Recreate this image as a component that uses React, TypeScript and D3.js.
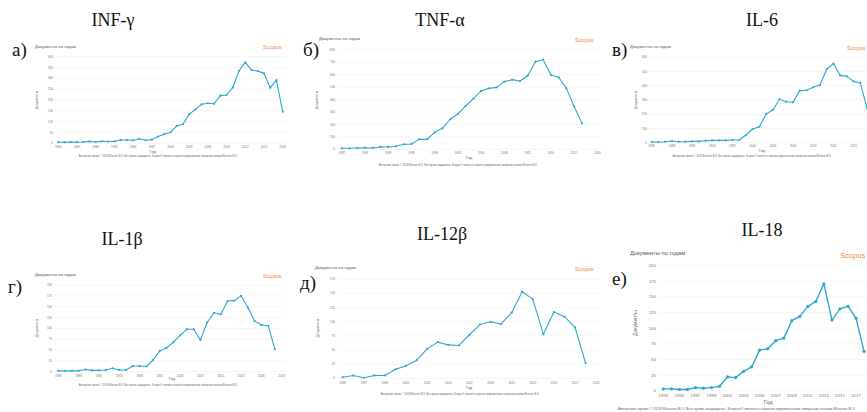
import * as d3 from 'd3';
import React from 'react';

const infYears = [1982,1983,1984,1985,1986,1987,1988,1989,1990,1991,1992,1993,1994,1995,1996,1997,1998,1999,2000,2001,2002,2003,2004,2005,2006,2007,2008,2009,2010,2011,2012,2013,2014,2015,2016,2017,2018];
const infValues = [5,5,6,5,6,9,6,9,8,9,15,15,14,20,14,17,31,42,51,80,88,134,157,180,185,183,220,223,258,335,374,338,334,323,257,292,146];
const infYTicks = [0,50,100,150,200,250,300,350,400];
const infXTicks = [1982,1985,1988,1991,1994,1997,2000,2003,2006,2009,2012,2015,2018];

const tnfYears = [1987,1988,1989,1990,1991,1992,1993,1994,1995,1996,1997,1998,1999,2000,2001,2002,2003,2004,2005,2006,2007,2008,2009,2010,2011,2012,2013,2014,2015,2016,2017,2018];
const tnfValues = [8,8,11,13,11,19,19,24,40,43,80,80,137,169,242,285,349,408,470,491,499,545,561,550,593,706,722,599,580,491,344,209];
const tnfYTicks = [0,100,200,300,400,500,600,700,800];
const tnfXTicks = [1987,1990,1993,1996,1999,2002,2005,2008,2011,2014,2017,2020];

const il6Years = [1985,1986,1987,1988,1989,1990,1991,1992,1993,1994,1995,1996,1997,1998,1999,2000,2001,2002,2003,2004,2005,2006,2007,2008,2009,2010,2011,2012,2013,2014,2015,2016,2017];
const il6Values = [5,5,7,12,7,7,9,9,14,16,16,16,19,19,54,96,112,202,230,305,288,284,366,368,389,405,516,556,473,466,431,420,241];
const il6YTicks = [0,100,200,300,400,500,600];
const il6XTicks = [1985,1988,1991,1994,1997,2000,2003,2006,2009,2012,2015];

const il1Years = [1986,1987,1988,1989,1990,1991,1992,1993,1994,1995,1996,1997,1998,1999,2000,2001,2002,2003,2004,2005,2006,2007,2008,2009,2010,2011,2012,2013,2014,2015,2016,2017,2018];
const il1Values = [2,2,2,2,5,3,3,4,8,4,4,13,13,12,27,48,55,68,84,98,98,73,114,136,132,163,164,175,148,117,108,106,52];
const il1YTicks = [0,25,50,75,100,125,150,175,200];
const il1XTicks = [1986,1989,1992,1995,1998,2001,2004,2007,2010,2013,2016,2019];

const il12Years = [1995,1996,1997,1998,1999,2000,2001,2002,2003,2004,2005,2006,2007,2008,2009,2010,2011,2012,2013,2014,2015,2016,2017,2018];
const il12Values = [2,5,1,5,5,16,22,32,52,64,59,58,77,95,100,96,116,153,140,78,117,109,90,27];
const il12YTicks = [0,25,50,75,100,125,150,175];
const il12XTicks = [1995,1997,1999,2001,2003,2005,2007,2009,2011,2013,2015,2017,2019];

const il18Years = [1993,1994,1995,1996,1997,1998,1999,2000,2001,2002,2003,2004,2005,2006,2007,2008,2009,2010,2011,2012,2013,2014,2015,2016,2017,2018];
const il18Values = [3,3,2,2,5,4,5,7,22,21,31,38,65,67,80,84,112,119,135,143,171,113,131,135,116,63];
const il18YTicks = [0,25,50,75,100,125,150,175,200];
const il18XTicks = [1993,1995,1997,1999,2001,2003,2005,2007,2009,2011,2013,2015,2017];

const HEAD = 'Документы по годам';
const YLABEL = 'Документы';
const XLABEL = 'Год';
const COPY = 'Авторские права © 2018 Elsevier B.V. Все права защищены. Scopus® является зарегистрированным товарным знаком Elsevier B.V.';

const SANS = "'Liberation Sans', Arial, sans-serif";
const SERIF = "'Liberation Serif', 'Times New Roman', serif";
const LINE = '#2ea9cd';
const ORANGE = '#ec8a3c';

// layout in page pixels
const small = { tick: 3, head: 4.3, scopus: 5.6, ylab: 3.6, xlab: 4, copy: 2.6, r: 1.1, sw: 1.1 };
const big = { tick: 4.4, head: 5.8, scopus: 7.6, ylab: 5, xlab: 5.6, copy: 3.9, r: 1.6, sw: 1.4 };

const panels = [
  { title: 'INF-γ', letter: 'а)', years: infYears, values: infValues, yTicks: infYTicks, xTicks: infXTicks,
    L: { tx: 113, ty: 26, lx: 12, ly: 56, hx: 35, hy: 48, sx: 263, sy: 49, x0: 58.3, ppy: 6.233, base: 143.3, top: 56.7,
      tickR: 53, yearY: 148, gx: 153, gy: 153, cx: 158, cy: 157, dx: 38, dy: 100, anchorCopy: 'middle', f: small } },
  { title: 'TNF-α', letter: 'б)', years: tnfYears, values: tnfValues, yTicks: tnfYTicks, xTicks: tnfXTicks,
    L: { tx: 440, ty: 26, lx: 303, ly: 56, hx: 319, hy: 40, sx: 575, sy: 42, x0: 341.7, ppy: 7.75, base: 149.3, top: 50,
      tickR: 335, yearY: 154, gx: 469, gy: 159, cx: 458, cy: 165.5, dx: 318, dy: 100, anchorCopy: 'middle', f: small } },
  { title: 'IL-6', letter: 'в)', years: il6Years, values: il6Values, yTicks: il6YTicks, xTicks: il6XTicks,
    L: { tx: 762, ty: 26, lx: 612, ly: 56, hx: 630, hy: 48, sx: 847, sy: 50, x0: 651.7, ppy: 6.73, base: 142.7, top: 57.3,
      tickR: 647, yearY: 147, gx: 762, gy: 152, cx: 752, cy: 157, dx: 637, dy: 100, anchorCopy: 'middle', f: small } },
  { title: 'IL-1β', letter: 'г)', years: il1Years, values: il1Values, yTicks: il1YTicks, xTicks: il1XTicks,
    L: { tx: 122, ty: 245, lx: 8, ly: 293, hx: 35, hy: 276, sx: 263, sy: 278, x0: 58.3, ppy: 6.77, base: 371.7, top: 285,
      tickR: 52, yearY: 377, gx: 172, gy: 380, cx: 158, cy: 385.5, dx: 38, dy: 328, anchorCopy: 'middle', f: small } },
  { title: 'IL-12β', letter: 'д)', years: il12Years, values: il12Values, yTicks: il12YTicks, xTicks: il12XTicks,
    L: { tx: 442, ty: 240, lx: 300, ly: 289, hx: 315, hy: 269, sx: 575, sy: 271, x0: 342.7, ppy: 10.56, base: 378.3, top: 279.3,
      tickR: 335, yearY: 384, gx: 469, gy: 389, cx: 460, cy: 394.5, dx: 319, dy: 328, anchorCopy: 'middle', f: small } },
  { title: 'IL-18', letter: 'е)', years: il18Years, values: il18Values, yTicks: il18YTicks, xTicks: il18XTicks,
    L: { tx: 762, ty: 236, lx: 612, ly: 285, hx: 630, hy: 255, sx: 840, sy: 258, x0: 663.3, ppy: 8.03, base: 390.7, top: 265.7,
      tickR: 656, yearY: 397, gx: 768, gy: 404, cx: 618, cy: 410, dx: 637, dy: 323, anchorCopy: 'start', f: big } },
];

function Panel({ p }: { p: any }) {
  const L = p.L;
  const f = L.f;
  const first = p.years[0];
  const lastTick = p.xTicks[p.xTicks.length - 1];
  const x = d3.scaleLinear().domain([first, lastTick]).range([L.x0, L.x0 + L.ppy * (lastTick - first)]);
  const y = d3.scaleLinear().domain([0, p.yTicks[p.yTicks.length - 1]]).range([L.base, L.top]);
  const line = d3.line<number>().x((_, i) => x(p.years[i])).y((d) => y(d));
  const gx0 = L.x0 - 4;
  const gx1 = Math.max(x(lastTick), x(p.years[p.years.length - 1])) + 3;

  return (
    <g>
      <text x={L.tx} y={L.ty} fontFamily={SERIF} fontSize={18} textAnchor="middle" fill="#111">{p.title}</text>
      <text x={L.lx} y={L.ly} fontFamily={SERIF} fontSize={19} fill="#111">{p.letter}</text>
      <text x={L.hx} y={L.hy} fontFamily={SANS} fontSize={f.head} fill="#555">{HEAD}</text>
      <text x={L.sx} y={L.sy} fontFamily={SANS} fontSize={f.scopus} fill={ORANGE}>Scopus</text>

      {p.yTicks.map((t: number) => (
        <g key={t}>
          <line x1={gx0} x2={gx1} y1={y(t)} y2={y(t)} stroke="#ececec" strokeWidth={0.5} />
          <text x={L.tickR} y={y(t)} dy="0.35em" fontFamily={SANS} fontSize={f.tick} textAnchor="end" fill="#777">{t}</text>
        </g>
      ))}
      {p.xTicks.map((t: number) => (
        <text key={t} x={x(t)} y={L.yearY} fontFamily={SANS} fontSize={f.tick} textAnchor="middle" fill="#777">{t}</text>
      ))}

      <text transform={`translate(${L.dx},${L.dy}) rotate(-90)`} fontFamily={SANS} fontSize={f.ylab} textAnchor="middle" fill="#666">{YLABEL}</text>
      <text x={L.gx} y={L.gy} fontFamily={SANS} fontSize={f.xlab} textAnchor="middle" fill="#666">{XLABEL}</text>
      <text x={L.cx} y={L.cy} fontFamily={SANS} fontSize={f.copy} textAnchor={L.anchorCopy} fill="#666">{COPY}</text>

      <path d={line(p.values) || ''} fill="none" stroke={LINE} strokeWidth={f.sw} strokeLinejoin="round" />
      {p.values.map((v: number, i: number) => (
        <circle key={i} cx={x(p.years[i])} cy={y(v)} r={f.r} fill={LINE} />
      ))}
    </g>
  );
}

export default function App() {
  return (
    <svg width={867} height={412} viewBox="0 0 867 412"
      style={{ position: 'absolute', left: 0, top: 0, background: '#fff', display: 'block' }}>
      <rect width={867} height={412} fill="#fff" />
      {panels.map((p) => <Panel key={p.title} p={p} />)}
    </svg>
  );
}
